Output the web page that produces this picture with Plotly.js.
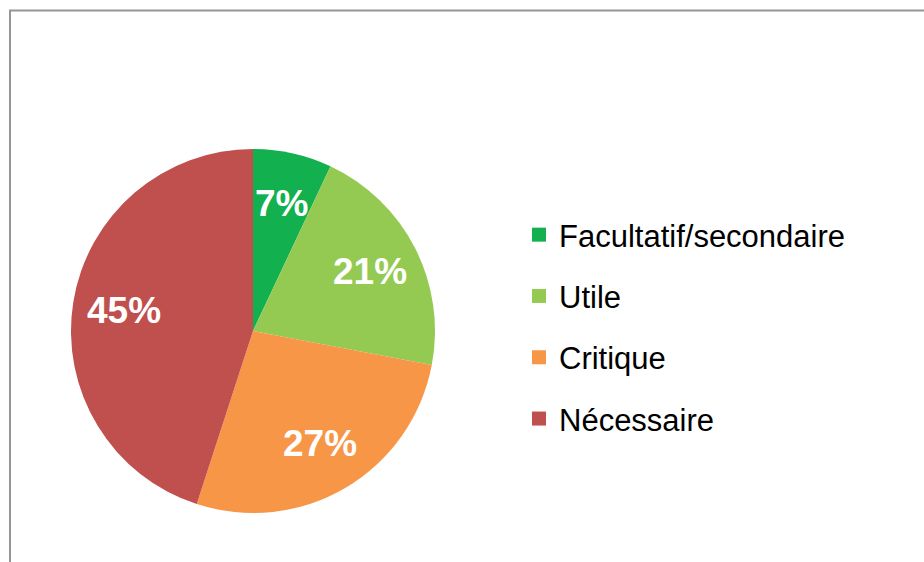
<!DOCTYPE html>
<html>
<head>
<meta charset="utf-8">
<script src="https://cdn.plot.ly/plotly-3.0.1.min.js"></script>
<style>
  html, body { margin: 0; padding: 0; background: #fff; }
  #chart { width: 924px; height: 562px; }
</style>
</head>
<body>
<div id="chart"></div>
<script>
const categories = ["Facultatif/secondaire", "Utile", "Critique", "Nécessaire"];
const values = [7, 21, 27, 45];
const colors = ["#12B04E", "#94CA52", "#F79646", "#C0504D"];

const W = 924, H = 562;
const cx = 253, cy = 331, r = 182;
const labelRadius = 0.72;

const total = values.reduce((a, b) => a + b, 0);
let cum = 0;
const labelAnnotations = values.map((v) => {
  const mid = (cum + v / 2) / total * 2 * Math.PI;
  cum += v;
  return {
    xref: "paper", yref: "paper",
    x: (cx + labelRadius * r * Math.sin(mid)) / W,
    y: 1 - (cy - labelRadius * r * Math.cos(mid)) / H,
    xanchor: "center", yanchor: "middle",
    text: Math.round(v / total * 100) + "%",
    showarrow: false,
    font: { family: "Liberation Sans, Arial, sans-serif", size: 37, color: "#ffffff", weight: "bold" }
  };
});

const pie = {
  type: "pie",
  labels: categories,
  values: values,
  sort: false,
  direction: "clockwise",
  rotation: 0,
  marker: { colors: colors, line: { width: 0 } },
  textinfo: "none",
  hoverinfo: "label+percent",
  showlegend: false,
  domain: { x: [(cx - r) / W, (cx + r) / W], y: [(H - cy - r) / H, (H - cy + r) / H] }
};

const legendTraces = categories.map((c, i) => ({
  type: "scatter",
  mode: "markers",
  x: [null], y: [null],
  name: c,
  legendgroup: "g" + i,
  marker: { symbol: "square", size: 14, color: colors[i] },
  hoverinfo: "skip",
  showlegend: true
}));

const layout = {
  width: W, height: H,
  margin: { l: 0, r: 0, t: 0, b: 0 },
  paper_bgcolor: "#ffffff",
  plot_bgcolor: "rgba(0,0,0,0)",
  xaxis: { visible: false },
  yaxis: { visible: false },
  showlegend: true,
  legend: {
    x: 519 / W, xanchor: "left",
    y: 1 - 208 / H, yanchor: "top",
    traceorder: "grouped",
    tracegroupgap: 18,
    font: { family: "Liberation Sans, Arial, sans-serif", size: 31, color: "#000000" },
    bgcolor: "rgba(0,0,0,0)"
  },
  annotations: labelAnnotations,
  shapes: [{
    type: "rect", xref: "paper", yref: "paper",
    x0: 10 / W, x1: 1.05, y0: -0.05, y1: 1 - 10.5 / H,
    line: { color: "#969696", width: 2 },
    fillcolor: "rgba(0,0,0,0)"
  }]
};

Plotly.newPlot("chart", [pie].concat(legendTraces), layout, { displayModeBar: false, staticPlot: true });
</script>
</body>
</html>
